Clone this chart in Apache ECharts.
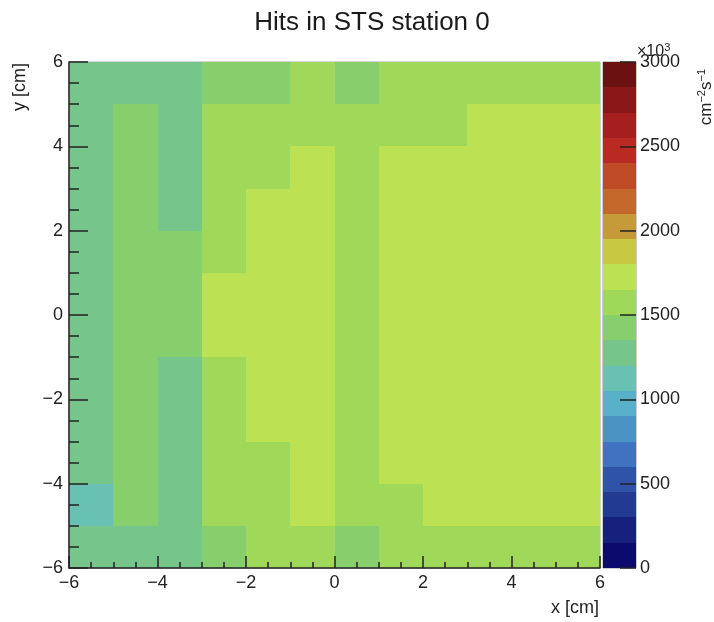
<!DOCTYPE html>
<html><head><meta charset="utf-8">
<script src="https://cdn.jsdelivr.net/npm/echarts@6/dist/echarts.min.js"></script>
<style>html,body{margin:0;padding:0;background:#fff}#c{width:714px;height:622px}</style>
</head><body><div id="c"></div>
<script>
// ---------------- data ----------------
const chartTitle = 'Hits in STS station 0';
const xTitle = 'x [cm]';
const yTitle = 'y [cm]';
const xEdges = [-6, -5, -4, -3, -2, -1, 0, 1, 2, 3, 4, 5, 6];
const yEdges = [-6, -5, -4, -3, -2, -1, 0, 1, 2, 3, 4, 5, 6];
// rows of bin contents (x10^3 cm^-2 s^-1), listed from top row (y 5..6) to bottom row (y -6..-5)
const row_y5  = [1280, 1285, 1290, 1430, 1440, 1580, 1425, 1590, 1595, 1590, 1585, 1580];
const row_y4  = [1290, 1440, 1295, 1590, 1600, 1610, 1600, 1605, 1600, 1730, 1735, 1730];
const row_y3  = [1295, 1450, 1300, 1600, 1610, 1730, 1600, 1740, 1745, 1740, 1735, 1730];
const row_y2  = [1295, 1455, 1300, 1610, 1730, 1740, 1605, 1745, 1750, 1745, 1740, 1735];
const row_y1  = [1300, 1455, 1360, 1620, 1735, 1745, 1610, 1750, 1755, 1750, 1745, 1740];
const row_y0  = [1300, 1460, 1365, 1660, 1740, 1750, 1615, 1755, 1760, 1755, 1750, 1740];
const row_ym1 = [1300, 1460, 1360, 1660, 1740, 1750, 1615, 1755, 1760, 1755, 1750, 1740];
const row_ym2 = [1295, 1455, 1300, 1620, 1735, 1745, 1610, 1750, 1755, 1750, 1745, 1735];
const row_ym3 = [1295, 1450, 1300, 1615, 1730, 1740, 1605, 1745, 1750, 1745, 1740, 1735];
const row_ym4 = [1290, 1445, 1295, 1600, 1620, 1730, 1600, 1740, 1740, 1740, 1735, 1730];
const row_ym5 = [1150, 1440, 1290, 1590, 1600, 1700, 1590, 1620, 1720, 1725, 1720, 1715];
const row_ym6 = [1280, 1285, 1290, 1430, 1580, 1590, 1425, 1590, 1595, 1590, 1585, 1580];
const rowsTopToBottom = [row_y5, row_y4, row_y3, row_y2, row_y1, row_y0, row_ym1, row_ym2, row_ym3, row_ym4, row_ym5, row_ym6];
const xTicks = [-6, -4, -2, 0, 2, 4, 6];
const yTicks = [-6, -4, -2, 0, 2, 4, 6];
const zTicks = [0, 500, 1000, 1500, 2000, 2500, 3000];
const zMin = 0, zMax = 3000;
// ---------------- palette (style) ----------------
const palette = ['#0d0a6d', '#18207d', '#223a91', '#2f53a8', '#3f72bf', '#4c93c5', '#59b0c9', '#68c1b3',
  '#76c68b', '#87cf6c', '#a0d95a', '#bce152', '#c9c843', '#c59a38', '#c4682c', '#bf4a26',
  '#b82a22', '#a61f1f', '#8a1818', '#6b1111'];
const step = (zMax - zMin) / palette.length;
function colorFor(v) {
  let k = Math.floor((v - zMin) / step);
  k = Math.max(0, Math.min(palette.length - 1, k));
  return palette[k];
}
// ---------------- build ----------------
const nRows = rowsTopToBottom.length;
const cells = [];
rowsTopToBottom.forEach((row, r) => {
  const j = nRows - 1 - r;
  row.forEach((v, i) => cells.push([xEdges[i], xEdges[i + 1], yEdges[j], yEdges[j + 1], v]));
});
const bands = palette.map((c, k) => [0, 1, zMin + k * step, zMin + (k + 1) * step, k]);

const FONT = "'Liberation Sans', Arial, Helvetica, sans-serif";
const TXT = '#222';
const minus = s => String(s).replace('-', '\u2212');

function rectItem(x0, x1, y0, y1, color, api) {
  const p1 = api.coord([x0, y1]);
  const p2 = api.coord([x1, y0]);
  const l = Math.round(p1[0]), t = Math.round(p1[1]);
  const r = Math.round(p2[0]), b = Math.round(p2[1]);
  return { type: 'rect', shape: { x: l, y: t, width: r - l, height: b - t }, style: { fill: color } };
}

const chart = echarts.init(document.getElementById('c'), null, { renderer: 'canvas' });
chart.setOption({
  animation: false,
  backgroundColor: '#fff',
  grid: [
    { left: 69, top: 62, width: 531, height: 506, show: true, borderColor: '#aaa', borderWidth: 1, backgroundColor: 'transparent' },
    { left: 603, top: 62, width: 33, height: 506, show: true, borderColor: '#999', borderWidth: 1, backgroundColor: 'transparent' }
  ],
  xAxis: [
    { type: 'value', gridIndex: 0, min: xTicks[0], max: xTicks[xTicks.length - 1], interval: xTicks[1] - xTicks[0], z: 5,
      axisLine: { show: true, onZero: false, lineStyle: { color: TXT, width: 1.5 } },
      axisTick: { show: true, inside: true, length: 12, lineStyle: { color: TXT, width: 1.5 } },
      minorTick: { show: true, splitNumber: 4, length: 6, lineStyle: { color: TXT, width: 1.5 } },
      splitLine: { show: false },
      axisLabel: { margin: 6, fontSize: 18, color: TXT, fontFamily: FONT, formatter: minus } },
    { type: 'value', gridIndex: 1, min: 0, max: 1, show: false, axisLine: { onZero: false } }
  ],
  yAxis: [
    { type: 'value', gridIndex: 0, min: yTicks[0], max: yTicks[yTicks.length - 1], interval: yTicks[1] - yTicks[0], z: 5,
      axisLine: { show: true, onZero: false, lineStyle: { color: TXT, width: 1.5 } },
      axisTick: { show: true, inside: true, length: 19, lineStyle: { color: TXT, width: 1.5 } },
      minorTick: { show: true, splitNumber: 4, length: 10, lineStyle: { color: TXT, width: 1.5 } },
      splitLine: { show: false },
      axisLabel: { margin: 6, fontSize: 18, color: TXT, fontFamily: FONT, formatter: minus } },
    { type: 'value', gridIndex: 1, position: 'right', min: zMin, max: zMax, interval: zTicks[1] - zTicks[0], z: 5,
      axisLine: { show: false, onZero: false },
      axisTick: { show: true, inside: true, length: 16, lineStyle: { color: TXT, width: 1.5 } },
      splitLine: { show: false },
      axisLabel: { margin: 4, fontSize: 18, color: TXT, fontFamily: FONT, formatter: v => String(v) } }
  ],
  series: [
    { type: 'custom', xAxisIndex: 0, yAxisIndex: 0, z: 1, data: cells,
      encode: { x: [0, 1], y: [2, 3] },
      renderItem: (params, api) => rectItem(api.value(0), api.value(1), api.value(2), api.value(3), colorFor(api.value(4)), api) },
    { type: 'custom', xAxisIndex: 1, yAxisIndex: 1, z: 1, data: bands,
      encode: { x: [0, 1], y: [2, 3] },
      renderItem: (params, api) => rectItem(api.value(0), api.value(1), api.value(2), api.value(3), palette[api.value(4)], api) }
  ],
  graphic: [
    { type: 'text', x: 372, y: 23, style: { text: chartTitle, font: '26px ' + FONT, fill: '#1a1a1a', align: 'center', verticalAlign: 'middle' } },
    { type: 'text', x: 599, y: 608, style: { text: xTitle, font: '18px ' + FONT, fill: TXT, align: 'right', verticalAlign: 'middle' } },
    { type: 'text', x: 20, y: 63, rotation: Math.PI / 2, style: { text: yTitle, font: '18px ' + FONT, fill: TXT, align: 'right', verticalAlign: 'middle' } },
    { type: 'text', x: 637, y: 52, z: 10, style: { text: '{a|\u00d710}{b|3}', fill: TXT, align: 'left', verticalAlign: 'middle',
        rich: { a: { fontSize: 16, fontFamily: FONT, color: TXT }, b: { fontSize: 11, fontFamily: FONT, color: TXT, padding: [0, 0, 8, 0] } } } },
    { type: 'text', x: 706, y: 69, rotation: Math.PI / 2, style: { text: '{a|cm}{b|\u22122}{a|s}{b|\u22121}', fill: TXT, align: 'right', verticalAlign: 'middle',
        rich: { a: { fontSize: 17, fontFamily: FONT, color: TXT }, b: { fontSize: 11, fontFamily: FONT, color: TXT, padding: [0, 0, 8, 0] } } } }
  ]
});
</script>
</body></html>
